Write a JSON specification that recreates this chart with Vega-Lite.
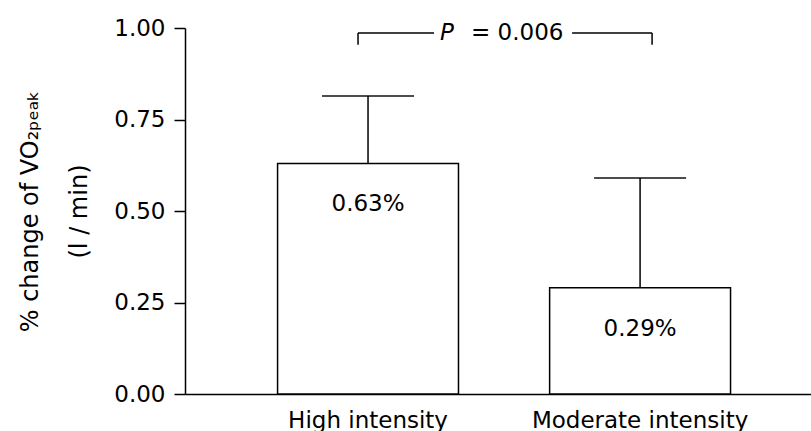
{
  "$schema": "https://vega.github.io/schema/vega-lite/v6.json",
  "width": 626,
  "height": 366,
  "autosize": {"type": "none"},
  "padding": {"left": 185, "top": 28, "right": 0, "bottom": 37},
  "background": "white",
  "config": {
    "view": {"stroke": null},
    "font": "DejaVu Sans",
    "axis": {
      "domainColor": "black",
      "domainWidth": 1.5,
      "tickColor": "black",
      "tickWidth": 1.5,
      "labelColor": "black",
      "titleColor": "black",
      "labelFont": "DejaVu Sans",
      "titleFont": "DejaVu Sans",
      "labelFontSize": 23,
      "titleFontSize": 24,
      "titleFontWeight": "normal",
      "labelLimit": 400,
      "grid": false
    }
  },
  "datasets": {
    "bars": [
      {"group": "High intensity", "value": 0.63, "upper": 0.814, "label": "0.63%"},
      {"group": "Moderate intensity", "value": 0.29, "upper": 0.59, "label": "0.29%"}
    ],
    "bracket": [
      {"g1": "High intensity", "g2": "Moderate intensity", "top": 0.986, "foot": 0.954, "p": "P", "pval": "= 0.006"}
    ]
  },
  "layer": [
    {
      "data": {"name": "bars"},
      "mark": {"type": "bar", "fill": "white", "stroke": "black", "strokeWidth": 1.5},
      "encoding": {
        "x": {
          "field": "group",
          "type": "nominal",
          "sort": null,
          "scale": {"paddingInner": 0.335, "paddingOuter": 0.318, "align": 0.535},
          "axis": {
            "title": null,
            "labelAngle": 0,
            "labelAlign": "center",
            "labelBaseline": "top",
            "ticks": false,
            "labelPadding": 15
          }
        },
        "y": {
          "field": "value",
          "type": "quantitative",
          "scale": {"domain": [0, 1], "nice": false},
          "axis": {
            "values": [0, 0.25, 0.5, 0.75, 1],
            "format": ".2f",
            "tickSize": 11,
            "labelPadding": 9,
            "title": ["% change of VO₂ₚₑₐₖ", "(l / min)"],
            "titlePadding": 22,
            "titleLineHeight": 49
          }
        }
      }
    },
    {
      "data": {"name": "bars"},
      "mark": {"type": "rule", "color": "black", "strokeWidth": 1.5},
      "encoding": {
        "x": {"field": "group", "type": "nominal", "sort": null},
        "y": {"field": "value", "type": "quantitative"},
        "y2": {"field": "upper"}
      }
    },
    {
      "data": {"name": "bars"},
      "mark": {"type": "tick", "color": "black", "size": 92, "thickness": 2, "orient": "horizontal"},
      "encoding": {
        "x": {"field": "group", "type": "nominal", "sort": null},
        "y": {"field": "upper", "type": "quantitative"}
      }
    },
    {
      "data": {"name": "bars"},
      "mark": {"type": "text", "fontSize": 23, "color": "black", "dy": 41, "baseline": "middle"},
      "encoding": {
        "x": {"field": "group", "type": "nominal", "sort": null},
        "y": {"field": "value", "type": "quantitative"},
        "text": {"field": "label"}
      }
    },
    {
      "data": {"name": "bracket"},
      "mark": {"type": "rule", "color": "black", "strokeWidth": 1.5, "xOffset": -10},
      "encoding": {
        "x": {"field": "g1", "type": "nominal"},
        "y": {"field": "foot", "type": "quantitative"},
        "y2": {"field": "top"}
      }
    },
    {
      "data": {"name": "bracket"},
      "mark": {"type": "rule", "color": "black", "strokeWidth": 1.5, "xOffset": 12},
      "encoding": {
        "x": {"field": "g2", "type": "nominal"},
        "y": {"field": "foot", "type": "quantitative"},
        "y2": {"field": "top"}
      }
    },
    {
      "data": {"name": "bracket"},
      "mark": {"type": "rule", "color": "black", "strokeWidth": 1.5, "xOffset": -10, "x2Offset": 66},
      "encoding": {
        "x": {"field": "g1", "type": "nominal"},
        "x2": {"field": "g1"},
        "y": {"field": "top", "type": "quantitative"}
      }
    },
    {
      "data": {"name": "bracket"},
      "mark": {"type": "rule", "color": "black", "strokeWidth": 1.5, "xOffset": -68, "x2Offset": 12},
      "encoding": {
        "x": {"field": "g2", "type": "nominal"},
        "x2": {"field": "g2"},
        "y": {"field": "top", "type": "quantitative"}
      }
    },
    {
      "data": {"name": "bracket"},
      "mark": {"type": "text", "fontSize": 23, "fontStyle": "italic", "color": "black", "align": "left", "baseline": "middle", "xOffset": 72},
      "encoding": {
        "x": {"field": "g1", "type": "nominal"},
        "y": {"field": "top", "type": "quantitative"},
        "text": {"field": "p"}
      }
    },
    {
      "data": {"name": "bracket"},
      "mark": {"type": "text", "fontSize": 23, "color": "black", "align": "left", "baseline": "middle", "xOffset": 103},
      "encoding": {
        "x": {"field": "g1", "type": "nominal"},
        "y": {"field": "top", "type": "quantitative"},
        "text": {"field": "pval"}
      }
    }
  ]
}
